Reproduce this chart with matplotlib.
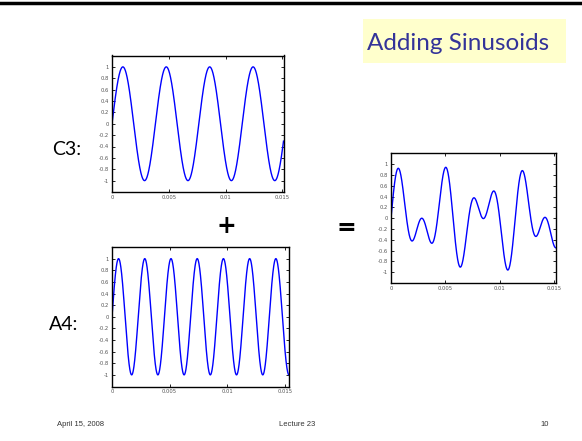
import numpy as np
import matplotlib
matplotlib.use("Agg")
import matplotlib.pyplot as plt
from matplotlib.patches import Rectangle
from matplotlib.lines import Line2D

# note frequencies (periods ~3.82 ms and ~2.27 ms)
freq_c3 = 261.63
freq_a4 = 440.0
t_end_c3 = 0.0151
t_end_a4 = 0.0153
t_end_sum = 0.0151
n_samples = 2000

y_ticks = [-1, -0.8, -0.6, -0.4, -0.2, 0, 0.2, 0.4, 0.6, 0.8, 1]
x_ticks = [0, 0.005, 0.01, 0.015]
x_tick_labels = ["0", "0.005", "0.01", "0.015"]

W, H = 582, 441
fig = plt.figure(figsize=(W / 100, H / 100), dpi=100)
fig.patch.set_facecolor("white")


def px_axes(left, right, top, bottom):
    return fig.add_axes([left / W, 1 - bottom / H, (right - left) / W, (bottom - top) / H])


def style(ax, t_end):
    ax.set_xlim(0, t_end)
    ax.set_ylim(-1.2, 1.2)
    ax.set_xticks(x_ticks)
    ax.set_xticklabels(x_tick_labels)
    ax.set_yticks(y_ticks)
    ax.set_yticklabels(["%g" % v for v in y_ticks])
    ax.tick_params(direction="in", length=2, width=0.6, labelsize=3.8,
                   labelcolor="#555555", pad=2, top=True, right=True)
    for s in ax.spines.values():
        s.set_linewidth(1.0)


t1 = np.linspace(0, t_end_c3, n_samples)
ax1 = px_axes(112, 283.5, 55.5, 192)
ax1.plot(t1, np.sin(2 * np.pi * freq_c3 * t1), color="#0000ff", lw=1.0)
style(ax1, t_end_c3)

t2 = np.linspace(0, t_end_a4, n_samples)
ax2 = px_axes(112, 288.5, 247, 386.5)
ax2.plot(t2, np.sin(2 * np.pi * freq_a4 * t2), color="#0000ff", lw=1.0)
style(ax2, t_end_a4)

t3 = np.linspace(0, t_end_sum, n_samples)
ax3 = px_axes(391, 555.5, 153.5, 283)
ax3.plot(t3, (np.sin(2 * np.pi * freq_c3 * t3) + np.sin(2 * np.pi * freq_a4 * t3)) / 2,
         color="#0000ff", lw=1.0)
style(ax3, t_end_sum)

# slide decorations
fig.add_artist(Line2D([0, 1], [1 - 3 / H, 1 - 3 / H], color="black", lw=2.5))
fig.add_artist(Rectangle((363 / W, 1 - 63 / H), (566 - 363) / W, (63 - 19) / H,
                         facecolor="#ffffcc", edgecolor="none"))
fig.text(367 / W, 1 - 44 / H, "Adding Sinusoids", fontsize=17.5, family="Lato",
         color="#333399", va="center", ha="left")

fig.text(52 / W, 1 - 150 / H, "C3:", fontsize=14, family="Lato", va="center")
fig.text(49 / W, 1 - 325 / H, "A4:", fontsize=14, family="Lato", va="center")
fig.text(226 / W, 1 - 226 / H, "+", fontsize=17, weight="bold", ha="center", va="center")
fig.text(346 / W, 1 - 228 / H, "=", fontsize=17, weight="bold", ha="center", va="center")

foot = dict(fontsize=5.5, family="Liberation Sans", color="#333333", va="center")
fig.text(57 / W, 1 - 425 / H, "April 15, 2008", ha="left", **foot)
fig.text(297 / W, 1 - 425 / H, "Lecture 23", ha="center", **foot)
fig.text(549 / W, 1 - 425 / H, "10", ha="right", **foot)

fig.savefig("out.png", dpi=100)
